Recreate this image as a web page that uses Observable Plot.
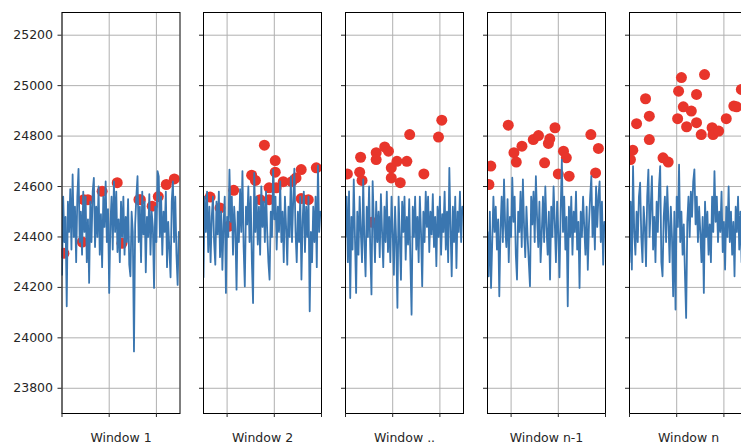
<!DOCTYPE html>
<html>
<head>
<meta charset="utf-8">
<script src="https://cdn.jsdelivr.net/npm/d3@7"></script>
<script src="https://cdn.jsdelivr.net/npm/@observablehq/plot@0.6"></script>
<style>
  html, body { margin: 0; padding: 0; background: #fff; overflow: hidden; }
  #chart { position: relative; width: 741px; height: 445px; overflow: hidden; }
  #chart svg { position: absolute; top: 0; }
  #chart svg text { font-size: 12.5px !important; font-family: "DejaVu Sans", sans-serif !important; }
</style>
</head>
<body>
<div id="chart"></div>
<script>
// ---- Data ----
const windowLabels = ["Window 1", "Window 2", "Window ..", "Window n-1", "Window n"];
const yTicks = [23800, 24000, 24200, 24400, 24600, 24800, 25000, 25200];
const xTicks1 = [0, 100, 200];
const xTicks2 = [300, 400, 500];
const xTicks3 = [500, 600, 700];
const xTicks4 = [800, 900, 1000];
const xTicks5 = [1000, 1100, 1200];

// blue series: 100 samples per window (sample spacing 2.5 index units)
const series1 = [24250,24560,24380,24480,24125,24540,24420,24590,24350,24648,24400,24520,24300,24560,24670,24380,24500,24330,24580,24420,
24560,24300,24470,24218,24540,24380,24580,24634,24360,24520,24400,24600,24330,24490,24280,24560,24440,24620,24380,24510,
24178,24450,24560,24350,24620,24420,24580,24340,24470,24300,24540,24400,24560,24330,24480,24380,24550,24290,24244,24500,
24420,23946,24450,24560,24641,24380,24520,24300,24580,24410,24540,24260,24480,24400,24570,24330,24500,24440,24198,24520,
24380,24661,24640,24400,24560,24330,24500,24420,24580,24280,24460,24350,24240,24540,24620,24380,24560,24330,24210,24420];
const series2 = [24240,24560,24420,24580,24340,24520,24300,24480,24560,24380,24290,24540,24410,24580,24320,24500,24270,24450,24560,24178,
24480,24400,24667,24460,24560,24330,24520,24430,24191,24500,24380,24590,24420,24661,24360,24204,24520,24450,24600,24380,
24560,24300,24138,24654,24420,24560,24370,24520,24330,24600,24440,24540,24380,24580,24420,24300,24231,24500,24400,24667,
24470,24560,24350,24520,24420,24620,24380,24500,24300,24560,24440,24290,24520,24400,24640,24380,24540,24671,24420,24300,
24500,24380,24560,24231,24460,24580,24340,24520,24400,24560,24105,24420,24300,24520,24380,24560,24280,24684,24420,24500];
const series3 = [24400,24560,24300,24581,24158,24480,24350,24628,24400,24178,24500,24330,24560,24420,24300,24628,24380,24244,24520,24400,
24600,24350,24172,24621,24460,24300,24540,24380,24500,24320,24570,24420,24280,24520,24380,24580,24340,24480,24300,24560,
24420,24250,24520,24380,24119,24560,24400,24230,24540,24420,24560,24310,24480,24370,24550,24300,24092,24520,24400,24560,
24350,24480,24300,24560,24420,24205,24500,24380,24580,24440,24560,24340,24500,24410,24570,24360,24480,24284,24520,24400,
24560,24330,24490,24420,24580,24350,24500,24300,24674,24440,24244,24520,24380,24560,24277,24500,24420,24580,24380,24520];
const series4 = [24420,24244,24500,24198,24380,24560,24420,24520,24350,24470,24165,24430,24560,24380,24628,24440,24360,24550,24300,24480,
24400,24635,24460,24560,24330,24231,24500,24420,24580,24360,24628,24440,24320,24520,24400,24300,24205,24560,24450,24580,
24380,24641,24480,24360,24540,24300,24420,24560,24380,24600,24440,24330,24500,24231,24520,24400,24600,24460,24300,24540,
24420,24240,24500,24707,24420,24560,24350,24480,24125,24520,24400,24560,24330,24500,24420,24580,24350,24460,24198,24500,
24400,24560,24440,24330,24520,24270,24450,24560,24641,24400,24520,24350,24600,24440,24560,24620,24380,24540,24290,24460];
const series5 = [24300,24540,24271,24681,24420,24330,24500,24380,24560,24615,24400,24300,24520,24440,24284,24560,24667,24400,24520,24641,
24350,24480,24300,24540,24420,24600,24681,24300,24244,24480,24560,24380,24600,24460,24300,24520,24400,24165,24500,24112,
24560,24440,24687,24380,24500,24330,24450,24250,24079,24460,24560,24400,24580,24480,24620,24668,24450,24560,24380,24520,
24420,24300,24480,24178,24540,24400,24500,24330,24450,24300,24560,24420,24661,24460,24560,24380,24500,24420,24580,24340,
24460,24271,24520,24400,24600,24380,24500,24330,24460,24244,24520,24420,24560,24350,24500,24300,24460,24380,24520,24420];

// red points: position within window (0-250) and value
const dotsX1 = [4, 43, 46, 55, 85, 117, 127, 163, 166, 191, 204, 221, 238];
const dotsY1 = [24335, 24380, 24548, 24548, 24581, 24615, 24375, 24548, 24548, 24522, 24560, 24608, 24630];
const dotsX2 = [14, 35, 53, 64, 102, 110, 120, 129, 139, 139, 152, 152, 154, 169, 187, 196, 207, 207, 222, 239];
const dotsY2 = [24558, 24515, 24442, 24585, 24645, 24624, 24548, 24764, 24595, 24548, 24703, 24657, 24595, 24619, 24619, 24634, 24667, 24552, 24548, 24674];
const dotsX3 = [4, 30, 32, 35, 56, 65, 65, 83, 91, 97, 97, 109, 116, 130, 136, 166, 197, 204];
const dotsY3 = [24650, 24657, 24716, 24624, 24458, 24734, 24707, 24757, 24740, 24674, 24634, 24700, 24615, 24700, 24806, 24650, 24796, 24863];
const dotsX4 = [3, 7, 44, 56, 61, 73, 97, 108, 121, 129, 132, 143, 150, 161, 167, 173, 219, 229, 235];
const dotsY4 = [24608, 24681, 24843, 24734, 24697, 24760, 24786, 24802, 24694, 24771, 24789, 24833, 24650, 24740, 24714, 24641, 24806, 24654, 24751];
const dotsX5 = [2, 7, 15, 34, 42, 42, 71, 82, 102, 104, 110, 114, 121, 131, 142, 142, 152, 159, 175, 177, 189, 205, 221, 227, 237];
const dotsY5 = [24707, 24744, 24849, 24948, 24879, 24786, 24714, 24697, 24869, 24978, 25032, 24916, 24837, 24899, 24965, 24853, 24806, 25044, 24833, 24806, 24820, 24869, 24919, 24916, 24985];

// ---- Build ----
const allSeries = [series1, series2, series3, series4, series5];
const allDotsX = [dotsX1, dotsX2, dotsX3, dotsX4, dotsX5];
const allDotsY = [dotsY1, dotsY2, dotsY3, dotsY4, dotsY5];
const allXTicks = [xTicks1, xTicks2, xTicks3, xTicks4, xTicks5];

const panelW = 118;
const panelLefts = [61.5, 203.3, 344.5, 486.5, 628.5];
const font = "DejaVu Sans, sans-serif";
const chart = document.getElementById("chart");

for (let i = 0; i < 5; i++) {
  const x0 = 250 * i;
  const lineData = allSeries[i].map((v, k) => ({x: x0 + k * 2.5, y: v}));
  const dotData = allDotsX[i].map((xx, k) => ({x: x0 + xx, y: allDotsY[i][k]}));
  const ml = i === 0 ? panelLefts[0] : 10;
  const svg = Plot.plot({
    width: ml + panelW + 10,
    height: 445,
    marginLeft: ml,
    marginRight: 10,
    marginTop: 12,
    marginBottom: 32,
    x: {domain: [x0, x0 + 250], axis: null},
    y: {domain: [23700, 25290], axis: null},
    style: {fontFamily: font, fontSize: "12.5px", color: "#262626", background: "transparent", overflow: "visible"},
    marks: [
      Plot.ruleY(yTicks, {stroke: "#b0b0b0", strokeWidth: 1}),
      Plot.ruleX(allXTicks[i], {stroke: "#b0b0b0", strokeWidth: 1}),
      Plot.dot(dotData, {x: "x", y: "y", r: 5.5, fill: "#e8352b", stroke: "none", clip: true}),
      Plot.line(lineData, {x: "x", y: "y", stroke: "#3a76b0", strokeWidth: 1.8, clip: true}),
      Plot.frame({stroke: "#000", strokeWidth: 1}),
      Plot.axisY({ticks: yTicks, tickSize: 4, tickPadding: 5, label: null,
        tickFormat: i === 0 ? (d => String(d)) : (() => ""), fontSize: 12.5}),
      Plot.axisX({ticks: allXTicks[i], tickSize: 4, label: null, tickFormat: () => ""}),
      Plot.text([windowLabels[i]], {frameAnchor: "bottom", dy: 24, text: d => d, fontSize: 12.5, fill: "#262626", lineAnchor: "middle"})
    ]
  });
  svg.style.left = (panelLefts[i] - ml) + "px";
  chart.appendChild(svg);
}
</script>
</body>
</html>
